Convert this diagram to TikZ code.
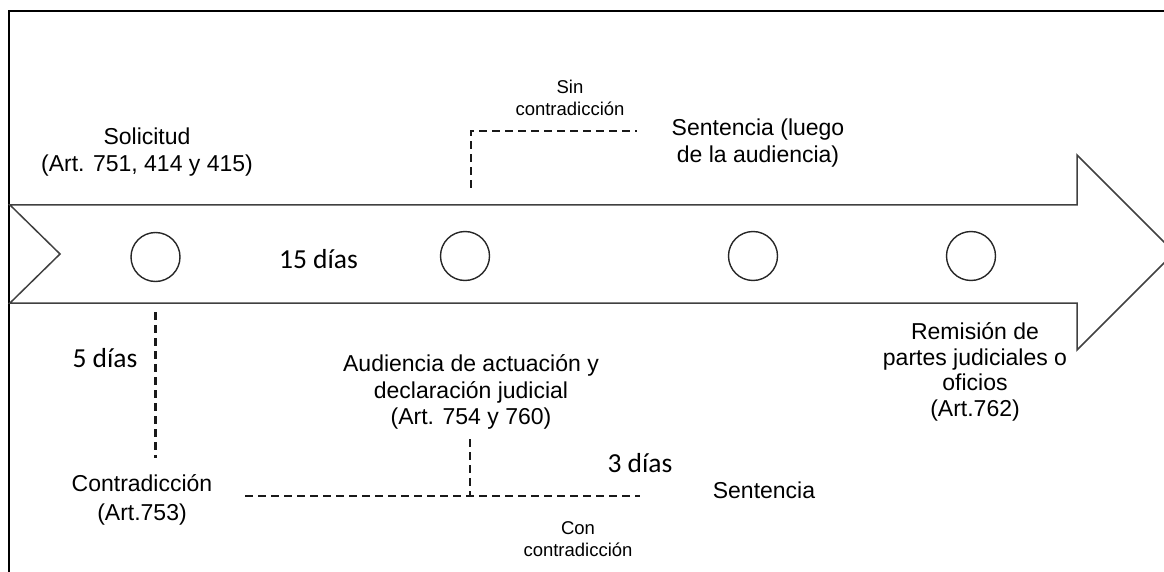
\documentclass[tikz,border=0pt]{standalone}
\usepackage{fontspec}
\setmainfont{Liberation Sans}
\newfontfamily\calibri{Carlito}
\begin{document}
\begin{tikzpicture}[x=1pt,y=-1pt,
  frameline/.style={line width=2pt,black},
  arrowline/.style={line width=1.5pt,draw=black!75,line join=miter},
  stage/.style={circle,draw=black!85,line width=1.4pt,minimum size=49pt,inner sep=0pt},
  lbl/.style={align=center,inner sep=0pt,font=\fontsize{23}{26.5}\selectfont},
  small/.style={align=center,inner sep=0pt,font=\fontsize{18.5}{22}\selectfont},
  days/.style={inner sep=0pt,font=\calibri\fontsize{27.5}{32}\selectfont},
  dashline/.style={line width=2.2pt,dash pattern=on 8pt off 5pt,black!90}]
\useasboundingbox (0,0) rectangle (1164,572);
\clip (0,0) rectangle (1164,572);
% frame
\draw[frameline] (9,580) -- (9,11) -- (1170,11);
% big arrow
\draw[arrowline] (10,205) -- (1077,205) -- (1077,155) -- (1174.5,252.5) -- (1077,350) -- (1077,303) -- (10,303) -- (60,254) -- cycle;
% stages
\node[stage] (c1) at (155.5,257) {};
\node[stage] (c2) at (465,256) {};
\node[stage] (c3) at (753,256) {};
\node[stage] (c4) at (971,256) {};
% texts
\node[lbl] (solicitud) at (147,152) {Solicitud\\(Art. 751, 414 y 415)};
\node[small] (sincon) at (570,98) {Sin\\contradicción};
\node[lbl] (sentA) at (758,143) {Sentencia (luego\\de la audiencia)};
\node[days] (d15) at (318.5,259) {15 días};
\node[days] (d5) at (105,358) {5 días};
\node[days] (d3) at (640,463) {3 días};
\node[lbl] (aud) at (471,392) {Audiencia de actuación y\\declaración judicial\\(Art. 754 y 760)};
\node[lbl,font=\fontsize{23}{28.5}\selectfont] (contra) at (142,500) {Contradicción\\(Art.753)};
\node[lbl] (sentB) at (764,490) {Sentencia};
\node[small] (concon) at (578,539) {Con\\contradicción};
\node[lbl,font=\fontsize{23}{25.5}\selectfont] (remision) at (975,372) {Remisión de\\partes judiciales o\\oficios\\(Art.762)};
% dashed connectors
\coordinate (topturn) at (471,131);
\coordinate (topend) at (637,131);
\coordinate (v1top) at (155.5,312);
\coordinate (v1bot) at (155.5,458);
\coordinate (hstart) at (245,496);
\coordinate (hmid) at (470,496);
\coordinate (hend) at (640,496);
\coordinate (v2top) at (470,439);
\draw[dashline] (471,188) -- (topturn) -- (topend);
\draw[dashline] (v1top) -- (v1bot);
\draw[dashline] (hstart) -- (hend);
\draw[dashline] (v2top) -- (hmid);
\end{tikzpicture}
\end{document}
